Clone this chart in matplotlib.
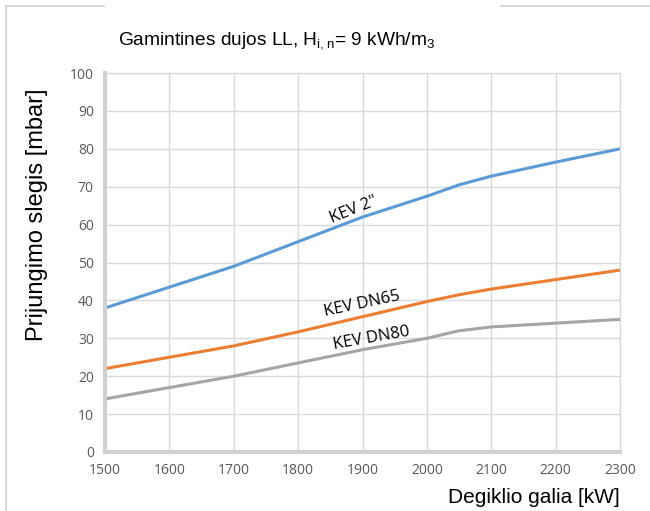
import matplotlib.pyplot as plt
from matplotlib.lines import Line2D

# burner power [kW]
power = [1500, 1600, 1700, 1800, 1900, 2000, 2050, 2100, 2200, 2300]

# connection pressure [mbar]
kev_2 = [38, 43.5, 49, 55.5, 62, 67.5, 70.5, 72.8, 76.5, 80]
kev_dn65 = [22, 25, 28, 31.7, 35.7, 39.7, 41.5, 43, 45.5, 48]
kev_dn80 = [14, 17, 20, 23.5, 27, 30, 32, 33, 34, 35]

x_ticks = [1500, 1600, 1700, 1800, 1900, 2000, 2100, 2200, 2300]
y_ticks = [0, 10, 20, 30, 40, 50, 60, 70, 80, 90, 100]

fig = plt.figure(figsize=(6.5, 5.11), dpi=100)
ax = fig.add_axes([0.1615, 0.1155, 0.7925, 0.7415])

ax.plot(power, kev_2, color='#5b9bd5', linewidth=2.2)
ax.plot(power, kev_dn65, color='#ed7d31', linewidth=2.2)
ax.plot(power, kev_dn80, color='#a5a5a5', linewidth=2.2)

ax.set_xlim(1500, 2300)
ax.set_ylim(0, 100)
ax.set_xticks(x_ticks)
ax.set_yticks(y_ticks)
ax.tick_params(length=0, labelsize=10, colors='#595959', pad=8)
for lbl in ax.get_xticklabels() + ax.get_yticklabels():
    lbl.set_fontfamily('Open Sans')
ax.grid(color='#d9d9d9', linewidth=1)
ax.set_axisbelow(True)
for side in ['left', 'bottom']:
    ax.spines[side].set_color('#d0d0d0')
    ax.spines[side].set_linewidth(3)
for side in ['top', 'right']:
    ax.spines[side].set_color('#d9d9d9')
    ax.spines[side].set_linewidth(1)

# curve labels
ax.text(1845, 60.5, 'KEV 2"', rotation=22, fontsize=12, family='Open Sans')
ax.text(1838, 36.0, 'KEV DN65', rotation=12, fontsize=12, family='Open Sans')
ax.text(1852, 27.3, 'KEV DN80', rotation=10, fontsize=12, family='Open Sans')

fig.text(0.182, 0.912, r'Gamintines dujos LL, H$\mathregular{_{i,n}}$= 9 kWh/m$\mathregular{_3}$',
         fontsize=13.8, family='Liberation Sans')
fig.text(0.057, 0.58, 'Prijungimo slegis [mbar]', rotation=90, fontsize=17,
         family='Liberation Sans', ha='center', va='center')
fig.text(0.954, 0.027, 'Degiklio galia [kW]', fontsize=15, family='Liberation Sans',
         ha='right', va='center')

# outer chart frame fragments
frame = dict(color='#d9d9d9', linewidth=1.5, transform=fig.transFigure)
fig.add_artist(Line2D([0.009, 0.16], [0.988, 0.988], **frame))
fig.add_artist(Line2D([0.009, 0.009], [0.988, 0.0], **frame))
fig.add_artist(Line2D([0.77, 1.0], [0.988, 0.988], **frame))

fig.savefig('out.png', dpi=100)
